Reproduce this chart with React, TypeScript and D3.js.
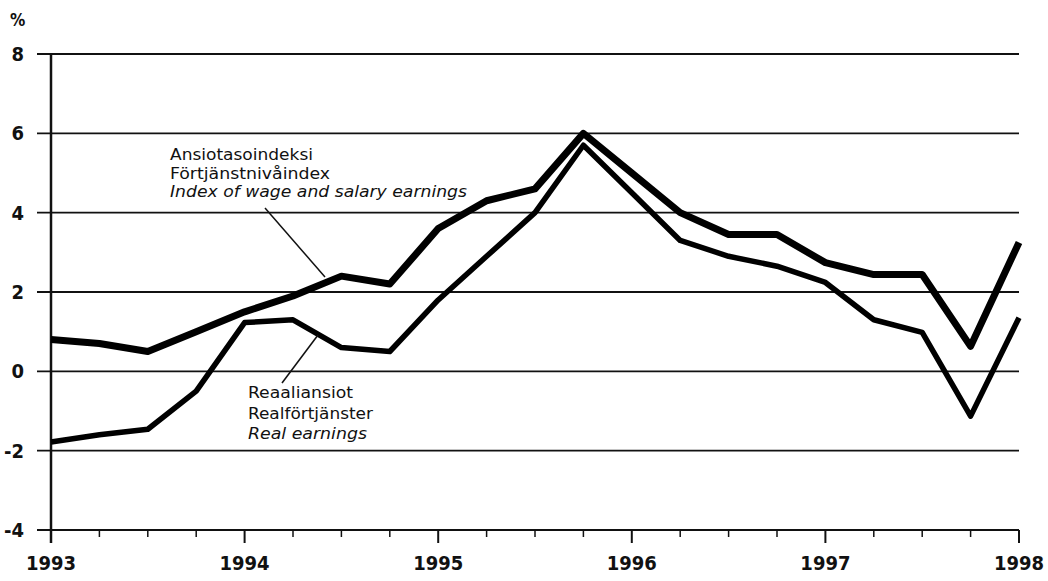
import * as d3 from 'd3';

// Quarterly observations, 1993Q1 .. 1998Q1 (% change)
const quarters = d3.range(0, 21).map(i => 1993 + i / 4);
const wageIndex = [0.8, 0.7, 0.5, 1.0, 1.5, 1.9, 2.4, 2.2, 3.6, 4.3, 4.6, 6.0, 5.0, 4.0, 3.45, 3.45, 2.74, 2.44, 2.44, 0.63, 3.25];
const realEarnings = [-1.78, -1.6, -1.46, -0.5, 1.23, 1.3, 0.6, 0.5, 1.8, 2.9, 4.0, 5.7, 4.5, 3.3, 2.9, 2.65, 2.24, 1.3, 0.98, -1.13, 1.35];
const yTicks = [-4, -2, 0, 2, 4, 6, 8];
const yearTicks = [1993, 1994, 1995, 1996, 1997, 1998];

const wageLabel = ['Ansiotasoindeksi', 'Förtjänstnivåindex', 'Index of wage and salary earnings'];
const realLabel = ['Reaaliansiot', 'Realförtjänster', 'Real earnings'];

const W = 1048;
const H = 581;
const font = '"DejaVu Sans Condensed", "Liberation Sans Narrow", sans-serif';

// widths of the annotation lines as printed
const wageWidths = [143, 160, 297];
const realWidths = [105, 125, 119];

export default function App() {
  const x = d3.scaleLinear().domain([1993, 1998]).range([51, 1019]);
  const y = d3.scaleLinear().domain([-4, 8]).range([530, 54]);

  const line = d3.line<number>()
    .x((_, i) => x(quarters[i]))
    .y(d => y(d));

  return (
    <svg width={W} height={H} style={{ position: 'absolute', left: 0, top: 0, background: '#fff' }}>
      <rect width={W} height={H} fill="#fff" />
      {/* grid lines */}
      {yTicks.map(t => (
        <line key={t} x1={37} x2={1019} y1={y(t)} y2={y(t)} stroke="#111" strokeWidth={1.8} />
      ))}
      {/* y axis */}
      <line x1={x(1993)} x2={x(1993)} y1={y(8)} y2={y(-4) + 13} stroke="#111" strokeWidth={2.5} />
      {yTicks.map(t => (
        <text key={t} x={24} y={y(t) + 7} textAnchor="end" fontFamily={font} fontWeight="bold" fontSize={20} fill="#111">
          {t}
        </text>
      ))}
      <text x={10} y={26} fontFamily={font} fontWeight="bold" fontSize={17} fill="#111">%</text>

      {/* x ticks */}
      {quarters.map((q, i) => (
        <line key={q} x1={x(q)} x2={x(q)} y1={y(-4)} y2={y(-4) + (i % 4 === 0 ? 13 : 7)} stroke="#111" strokeWidth={i % 4 === 0 ? 2 : 1.5} />
      ))}
      {yearTicks.map(t => (
        <text key={t} x={x(t)} y={570} textAnchor="middle" fontFamily={font} fontWeight="bold" fontSize={20} fill="#111">
          {t}
        </text>
      ))}

      {/* series */}
      <path d={line(realEarnings) ?? ''} fill="none" stroke="#000" strokeWidth={5.5} strokeLinejoin="round" />
      <path d={line(wageIndex) ?? ''} fill="none" stroke="#000" strokeWidth={7} strokeLinejoin="round" />

      {/* annotations */}
      <line x1={265} y1={208} x2={325} y2={277} stroke="#111" strokeWidth={1.5} />
      {wageLabel.map((s, i) => (
        <text key={s} x={170} y={160 + i * 18.5} fontFamily={font} fontSize={16.5} fontWeight={500}
          fontStyle={i === 2 ? 'italic' : 'normal'} fill="#111" textLength={wageWidths[i]} lengthAdjust="spacingAndGlyphs">
          {s}
        </text>
      ))}
      <line x1={282} y1={383} x2={318} y2={335} stroke="#111" strokeWidth={1.5} />
      {realLabel.map((s, i) => (
        <text key={s} x={248} y={398 + i * 20.5} fontFamily={font} fontSize={16.5} fontWeight={500}
          fontStyle={i === 2 ? 'italic' : 'normal'} fill="#111" textLength={realWidths[i]} lengthAdjust="spacingAndGlyphs">
          {s}
        </text>
      ))}
    </svg>
  );
}
